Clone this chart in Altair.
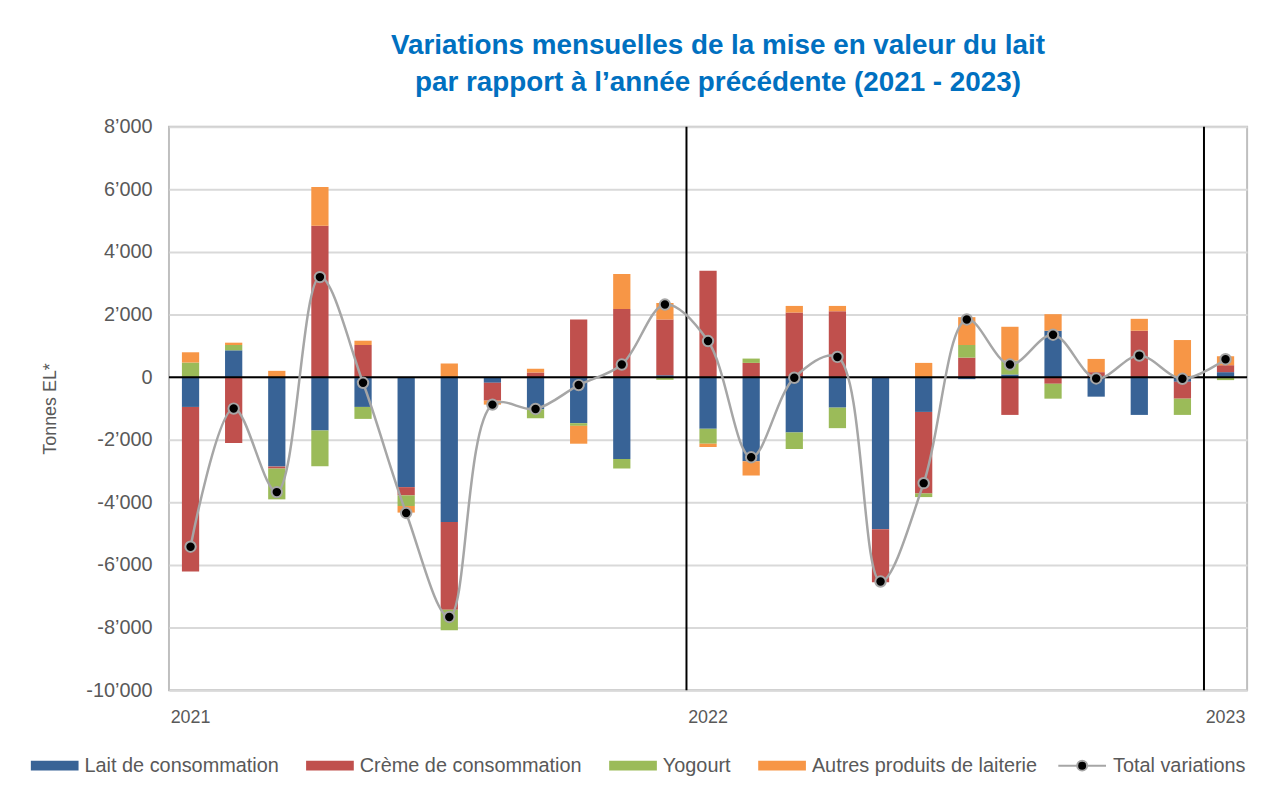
import altair as alt
import pandas as pd

months = [f"{y}-{m:02d}" for y in (2021, 2022) for m in range(1, 13)] + ["2023-01"]

produits = ["Lait de consommation", "Crème de consommation", "Yogourt", "Autres produits de laiterie"]
couleurs = ["#386396", "#C0504D", "#9BBB59", "#F79646"]

lait = [-952, 857, -2857, -1704, -952, -3514, -4625, -180, -1027, -1471, -2614, 60,
        -1651, -2688, -1767, -974, -4858, -1111, -64, 85, 1482, -624, -1207, -148, 159]
creme = [-5260, -2106, -64, 4836, 1027, -264, -2805, -571, 148, 1842, 2180, 1780,
         3397, 455, 2064, 2106, -1693, -2604, 624, -1207, -212, 159, 1482, -540, 222]
yogourt = [466, 170, -984, -1143, -382, -339, -656, 0, -285, -85, -307, -85,
           -476, 138, -530, -656, 0, -117, 403, 445, -476, 0, 0, -519, -95]
autres = [328, 74, 201, 1239, 137, -211, 434, -127, 117, -571, 1112, 529,
          -106, -455, 211, 169, 0, 455, 889, 1079, 529, 423, 381, 1185, 286]
total = [-5418, -1005, -3673, 3196, -180, -4339, -7662, -878, -1016, -254, 402, 2318,
         1153, -2561, -20, 646, -6530, -3387, 1842, 402, 1355, -42, 688, -53, 572]

separateurs = ["2022-01", "2023-01"]
y_ticks = list(range(-10000, 8001, 2000))

rows = []
for i, (p, vals) in enumerate(zip(produits, [lait, creme, yogourt, autres])):
    for m, v in zip(months, vals):
        rows.append({"mois": m, "produit": p, "ordre": i, "valeur": v})
df_bars = pd.DataFrame(rows)
df_total = pd.DataFrame({"mois": months, "total": total, "serie": "Total variations"})
df_sep = pd.DataFrame({"mois": separateurs})
df_zero = pd.DataFrame({"zero": [0]})

LBL_FONT = "Liberation Sans"
GRAY = "#595959"

x_axis = alt.Axis(
    title=None, ticks=False, domain=False, grid=False,
    labelExpr="substring(datum.value, 5) == '01' ? substring(datum.value, 0, 4) : ''",
    labelAngle=0, labelFont=LBL_FONT, labelFontSize=18, labelColor=GRAY, labelPadding=19,
)
x_scale = alt.Scale(paddingInner=0, paddingOuter=0, domain=months)
y_scale = alt.Scale(domain=[-10000, 8000], nice=False)

bars = alt.Chart(df_bars).mark_bar(width=alt.RelativeBandSize(0.4)).encode(
    x=alt.X("mois:N", scale=x_scale, axis=x_axis),
    y=alt.Y("valeur:Q", stack="zero", scale=y_scale,
            axis=alt.Axis(
                values=y_ticks, title="Tonnes EL*", ticks=False, domain=False,
                labelExpr="replace(replace(format(datum.value, ','), ',', '’'), '−', '-')",
                labelFont=LBL_FONT, labelFontSize=20, labelColor=GRAY, labelPadding=17,
                titleFont=LBL_FONT, titleFontSize=18, titleColor=GRAY, titleFontWeight="normal",
                titlePadding=26, gridColor="#d9d9d9", gridWidth=2,
            )),
    color=alt.Color("produit:N", scale=alt.Scale(domain=produits, range=couleurs),
                    legend=alt.Legend(
                        title=None, orient="none", legendX=-125, legendY=633,
                        direction="horizontal", columns=4,
                        symbolType="M-4.8,-1L4.8,-1L4.8,1L-4.8,1Z", symbolSize=100,
                        symbolStrokeWidth=0, labelOffset=20, columnPadding=27,
                        labelFont=LBL_FONT, labelFontSize=20, labelColor=GRAY, labelLimit=400,
                    )),
    order=alt.Order("ordre:Q", sort="ascending"),
)

zero_line = alt.Chart(df_zero).mark_rule(color="black", strokeWidth=2).encode(
    y=alt.Y("zero:Q", scale=y_scale)
)

seps = alt.Chart(df_sep).mark_rule(color="black", strokeWidth=2).encode(
    x=alt.X("mois:N", scale=x_scale, axis=x_axis, bandPosition=0)
)

line = alt.Chart(df_total).mark_line(
    color="#a6a6a6", strokeWidth=2.5, interpolate="catmull-rom"
).encode(
    x=alt.X("mois:N", scale=x_scale, axis=x_axis),
    y=alt.Y("total:Q", scale=y_scale),
)

points = alt.Chart(df_total).mark_point(
    filled=True, size=110, stroke="#a6a6a6", strokeWidth=2, opacity=1
).encode(
    x=alt.X("mois:N", scale=x_scale, axis=x_axis),
    y=alt.Y("total:Q", scale=y_scale),
    color=alt.Color("serie:N", scale=alt.Scale(domain=["Total variations"], range=["black"]),
                    legend=alt.Legend(
                        title=None, orient="none", legendX=909, legendY=633,
                        symbolType="M-4.8,0L-1,0M1,0L4.8,0M1,0A1,1,0,1,1,-1,0A1,1,0,1,1,1,0Z",
                        symbolSize=100, symbolStrokeColor="#a6a6a6", symbolStrokeWidth=2,
                        symbolFillColor="black", labelOffset=21,
                        labelFont=LBL_FONT, labelFontSize=20, labelColor=GRAY, labelLimit=400,
                    )),
)

chart = alt.layer(bars, zero_line, seps, line, points).resolve_scale(
    color="independent"
).properties(
    width=1085, height=567,
    autosize=alt.AutoSizeParams(type="none"),
    padding={"left": 162, "top": 117, "right": 16, "bottom": 96},
    title=alt.Title(
        text=["Variations mensuelles de la mise en valeur du lait",
              "par rapport à l’année précédente (2021 - 2023)"],
        font="Liberation Sans", fontSize=28, fontWeight="bold", color="#0070C0",
        anchor="middle", dx=10, offset=20, lineHeight=37,
    ),
).configure_view(
    stroke="#bfbfbf", strokeWidth=2
)

chart.save("out.html", embed_options={"renderer": "svg", "actions": False})
